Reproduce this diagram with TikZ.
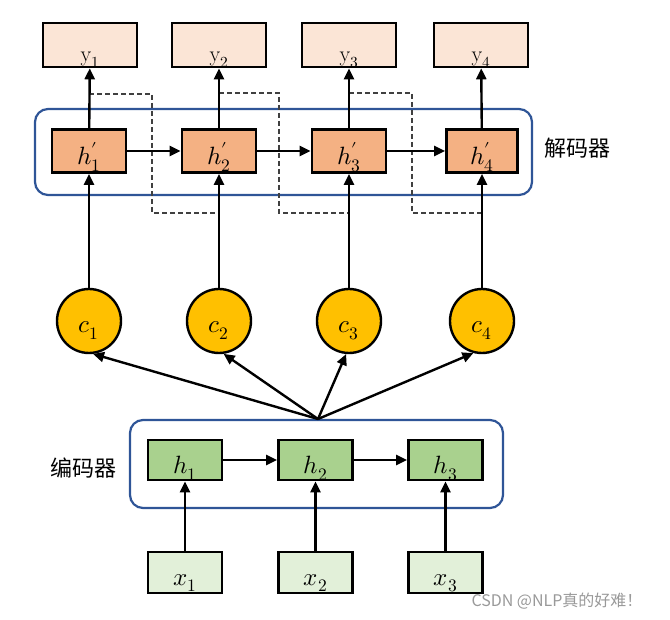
\documentclass[tikz,border=0pt]{standalone}
\usepackage{fontspec}
\usepackage{unicode-math}
\setmathfont{Latin Modern Math}
\newfontfamily\cjk{Noto Sans CJK SC}
\usetikzlibrary{arrows.meta}
\definecolor{ypeach}{HTML}{FBE5D6}
\definecolor{hpeach}{HTML}{F4B183}
\definecolor{cgold}{HTML}{FFC000}
\definecolor{hgreen}{HTML}{A9D18E}
\definecolor{xgreen}{HTML}{E2F0D9}
\definecolor{frameblue}{HTML}{2F5597}
\begin{document}
\begin{tikzpicture}[x=1pt,y=-1pt,
  box/.style={draw=black, line width=2.6pt, inner sep=0pt, minimum width=74pt},
  ybox/.style={box, fill=ypeach, minimum width=94pt, minimum height=44pt},
  dbox/.style={box, fill=hpeach, minimum height=43pt},
  cnode/.style={circle, draw=black, line width=2.4pt, fill=cgold, minimum size=64pt, inner sep=0pt},
  ebox/.style={box, fill=hgreen, minimum height=40pt},
  xbox/.style={box, fill=xgreen, minimum height=41pt},
  frame/.style={draw=frameblue, line width=2.2pt, rounded corners=13pt, inner sep=0pt},
  lbl/.style={anchor=base, inner sep=0pt, font=\fontsize{25}{28}\selectfont},
  ylbl/.style={anchor=base, inner sep=0pt, font=\fontsize{22}{24}\selectfont},
  arr/.style={line width=2.4pt, -{Triangle[length=11pt,width=10pt]}},
  dsh/.style={draw=black!75, line width=1.3pt, dash pattern=on 5pt off 3pt},
  zh/.style={font=\cjk\fontsize{22}{24}\selectfont, inner sep=0pt}
]
\useasboundingbox (0,0) rectangle (670,620);

% frames
\node[frame, minimum width=497pt, minimum height=86pt] (dec) at (283.5,152) {};
\node[frame, minimum width=373pt, minimum height=88pt] (enc) at (316.5,464) {};
\node[zh] (declbl) at (577,148) {解码器};
\node[zh] (enclbl) at (83,468) {编码器};

% output boxes
\node[ybox] (y1) at (90,45) {};
\node[ybox] (y2) at (219,45) {};
\node[ybox] (y3) at (349,45) {};
\node[ybox] (y4) at (481,45) {};
\node[ylbl] (ly1) at (90,62) {$\mathrm{y}_1$};
\node[ylbl] (ly2) at (219,62) {$\mathrm{y}_2$};
\node[ylbl] (ly3) at (349,62) {$\mathrm{y}_3$};
\node[ylbl] (ly4) at (481,62) {$\mathrm{y}_4$};

% decoder states
\node[dbox] (d1) at (89,151) {};
\node[dbox] (d2) at (219,151) {};
\node[dbox] (d3) at (349,151) {};
\node[dbox, minimum width=71pt] (d4) at (482,151) {};
\node[lbl] (ld1) at (89,165) {$h_1'$};
\node[lbl] (ld2) at (219,165) {$h_2'$};
\node[lbl] (ld3) at (349,165) {$h_3'$};
\node[lbl] (ld4) at (482,165) {$h_4'$};

% context circles
\node[cnode] (c1) at (89,321) {};
\node[cnode] (c2) at (219,321) {};
\node[cnode] (c3) at (349,321) {};
\node[cnode] (c4) at (482,321) {};
\node[lbl] (lc1) at (89,333) {$c_1$};
\node[lbl] (lc2) at (219,333) {$c_2$};
\node[lbl] (lc3) at (349,333) {$c_3$};
\node[lbl] (lc4) at (482,333) {$c_4$};

% encoder states
\node[ebox] (h1) at (185,460) {};
\node[ebox] (h2) at (315.5,460) {};
\node[ebox] (h3) at (445.5,460) {};
\node[lbl] (lh1) at (185,474) {$h_1$};
\node[lbl] (lh2) at (315.5,474) {$h_2$};
\node[lbl] (lh3) at (445.5,474) {$h_3$};

% inputs
\node[xbox] (x1) at (185,572.5) {};
\node[xbox] (x2) at (315.5,572.5) {};
\node[xbox] (x3) at (445.5,572.5) {};
\node[lbl] (lx1) at (185,585) {$x_1$};
\node[lbl] (lx2) at (315.5,585) {$x_2$};
\node[lbl] (lx3) at (445.5,585) {$x_3$};

% dashed feedback paths
\coordinate (s1) at (89,94);
\coordinate (e1) at (219,213);
\coordinate (s2) at (219,93);
\coordinate (e2) at (349,213);
\coordinate (s3) at (349,93);
\coordinate (e3) at (482,213);
\draw[dsh] (s1) -- (152,94) -- (152,213) -- (e1);
\draw[dsh] (s2) -- (279,93) -- (279,213) -- (e2);
\draw[dsh] (s3) -- (412,93) -- (412,213) -- (e3);

% decoder arrows
\foreach \i in {1,2,3,4} {
  \draw[arr] (d\i) -- (y\i);
  \draw[arr] (c\i) -- (d\i);
}
\draw[arr] (d1) -- (d2);
\draw[arr] (d2) -- (d3);
\draw[arr] (d3) -- (d4);

% fan from encoder
\coordinate (o) at (318,419);
\draw[arr] (o) -- (c1.-83);
\draw[arr] (o) -- (c2.-82);
\draw[arr] (o) -- (c3.-95);
\draw[arr] (o) -- (c4.-105);

% encoder arrows
\foreach \i in {1,2,3} {
  \draw[arr] (x\i) -- (h\i);
}
\draw[arr] (h1) -- (h2);
\draw[arr] (h2) -- (h3);

% watermark
\node[font=\cjk\fontsize{16}{18}\selectfont, text=black!40, inner sep=0pt] (wm) at (557,601) {CSDN @NLP真的好难！};
\end{tikzpicture}
\end{document}
